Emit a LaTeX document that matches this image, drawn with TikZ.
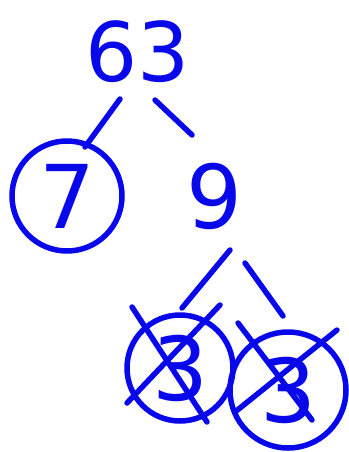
\documentclass[tikz,border=0pt]{standalone}
\usepackage{fontspec}
\setmainfont{DejaVu Sans}
\usepackage{tikz}
\usepackage{xcolor}
\definecolor{ink}{RGB}{8,8,235}

\begin{document}
\begin{tikzpicture}[x=1pt,y=-1pt,
  pen/.style={ink,line width=5.5pt,line cap=round},
  num/.style={text=ink,inner sep=0pt,font=\fontsize{88}{88}\selectfont},
  ring/.style={num,draw=ink,line width=5.5pt,circle}]
\useasboundingbox (0,0) rectangle (348,452);
% numbers
\node[num,font=\fontsize{82}{82}\selectfont] (n63) at (138,52) {63};
\node[ring,minimum size=110pt] (n7) at (67,196) {7};
\node[num] (n9) at (214,196) {9};
\node[ring,minimum size=106pt] (n3a) at (180,368) {3};
\node[ring,minimum size=116pt] (n3b) at (288,390) {3};
% branches
\draw[pen] ([shift={(-18,47)}]n63.center) -- ([shift={(18,-49)}]n7.center);
\draw[pen] ([shift={(17,48)}]n63.center) -- ([shift={(-22,-61)}]n9.center);
\draw[pen] ([shift={(16,54)}]n9.center) -- ([shift={(2,-60)}]n3a.center);
\draw[pen] ([shift={(31,67)}]n9.center) -- ([shift={(-5,-74)}]n3b.center);
% crossed out
\draw[pen] ([shift={(-48,-61)}]n3a.center) -- ([shift={(27,54)}]n3a.center);
\draw[pen] ([shift={(40,-63)}]n3a.center) -- ([shift={(-53,35)}]n3a.center);
\draw[pen] ([shift={(-50,-67)}]n3b.center) -- ([shift={(24,30)}]n3b.center);
\draw[pen] ([shift={(49,-60)}]n3b.center) -- ([shift={(-53,22)}]n3b.center);
\end{tikzpicture}
\end{document}
